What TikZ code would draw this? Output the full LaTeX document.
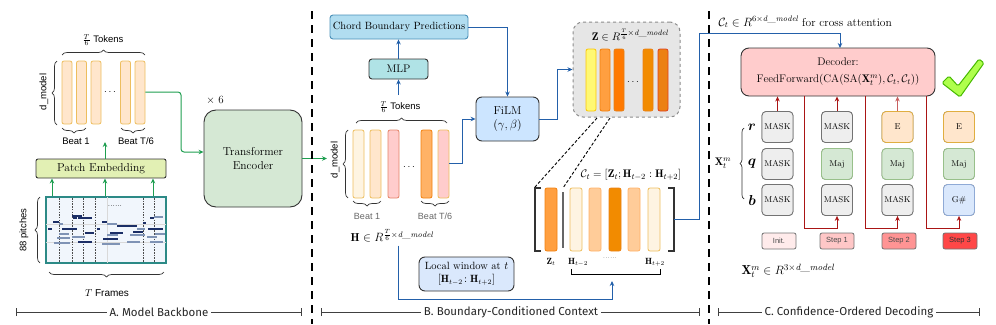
\documentclass[tikz,border=0pt]{standalone}
\usepackage{fontspec}
\usepackage{bm}
\newfontfamily\arialf{Liberation Sans}
\newfontfamily\handf{Fira Sans}
\usetikzlibrary{arrows.meta,decorations.pathreplacing,calc}
\definecolor{arrgreen}{HTML}{1E9E50}
\definecolor{arrblue}{HTML}{2360AA}
\definecolor{arrred}{HTML}{AA1515}
\definecolor{arrred2}{HTML}{C86060}
\definecolor{boxdark}{HTML}{333333}
\definecolor{tokfill}{HTML}{FFE6CC}
\definecolor{tokdraw}{HTML}{EDBE5E}
\definecolor{pefill}{HTML}{E2F0B4}
\definecolor{encfill}{HTML}{D5E8D4}
\definecolor{rollfill}{HTML}{F1F6FC}
\definecolor{rolldraw}{HTML}{2C8A86}
\definecolor{notedark}{HTML}{1B2E66}
\definecolor{notelight}{HTML}{7F93B5}
\definecolor{cbpfill}{HTML}{B1DDF0}
\definecolor{cbpdraw}{HTML}{4A90B8}
\definecolor{mlpfill}{HTML}{B0E3E6}
\definecolor{filmfill}{HTML}{CCE5FF}
\definecolor{lwfill}{HTML}{DAE8FC}
\definecolor{zfill}{HTML}{E6E6E6}
\definecolor{decfill}{HTML}{FFCCCC}
\definecolor{maskfill}{HTML}{EEEEEE}
\definecolor{majfill}{HTML}{D5E8D4}
\definecolor{majdraw}{HTML}{98C08A}
\definecolor{efill}{HTML}{FFE6CC}
\definecolor{edraw}{HTML}{E0AE40}
\definecolor{gfill}{HTML}{DAE8FC}
\definecolor{gdraw}{HTML}{8FAAD6}
\begin{document}
\begin{tikzpicture}[x=1pt,y=-1pt,
  box/.style={draw=boxdark, line width=0.9pt, rounded corners=3pt, inner sep=0pt, align=center},
  bar/.style={draw, line width=0.8pt, rounded corners=2pt, inner sep=0pt, minimum width=10pt},
  garrow/.style={draw=arrgreen, line width=1pt, rounded corners=3pt, -{Stealth[length=5pt,width=4.5pt]}},
  barrow/.style={draw=arrblue, line width=1pt, -{Stealth[length=5pt,width=4.5pt]}},
  rarrow/.style={draw=arrred, line width=1pt, -{Stealth[length=5pt,width=4.5pt]}},
  mybrace/.style={decorate, decoration={brace, amplitude=5pt}, draw=black!80, line width=0.7pt},
  tok/.style={draw, line width=0.8pt, rounded corners=4pt, minimum width=31pt, minimum height=31pt, inner sep=0pt, font=\fontsize{8.5}{9}\selectfont},
  stepbox/.style={draw=black!55, line width=0.8pt, rounded corners=2pt, minimum width=34pt, minimum height=16pt, inner sep=0pt, font=\arialf\fontsize{7.5}{8}\selectfont, text=black!70},
  sflabel/.style={font=\arialf\fontsize{9.5}{11}\selectfont},
  divider/.style={draw=black, line width=1.2pt, dash pattern=on 8pt off 6pt},
  secline/.style={draw=black!75, line width=1pt, {Bar[width=8pt]}-{Bar[width=8pt]}},
  seclabel/.style={fill=white, inner sep=3pt, font=\handf\fontsize{11.5}{13}\selectfont, text=black!85},
  dk/.style={draw=notedark, line width=1.4pt},
  lt/.style={draw=notelight, line width=2.4pt}
]
\useasboundingbox (0,0) rectangle (996,324);

% ===================== A. Model Backbone =====================
\foreach \x/\n in {67/a1,81.5/a2,96/a3,125.5/a4,140/a5}
  \node[bar, fill=tokfill, draw=tokdraw, minimum height=63pt] (\n) at (\x,92.5) {};
\node (adots) at (110,92) {$\cdots$};
\draw[mybrace] (62,55) -- (145,55);
\node[sflabel] (atok) at (103,40) {$\frac{T}{6}$ Tokens};
\draw[mybrace] (57,125) -- (57,61);
\node[sflabel, rotate=90] (adm) at (44,92) {d\_model};
\draw[mybrace] (86,128) -- (62,128);
\draw[mybrace] (145,128) -- (121,128);
\node[sflabel] (ab1) at (76,141) {Beat 1};
\node[sflabel] (ab2) at (136,141) {Beat T/6};

\node[box, fill=pefill, rounded corners=2pt, minimum width=130pt, minimum height=19pt, font=\fontsize{11.5}{13}\selectfont] (pe) at (101,168.5) {Patch Embedding};
\coordinate (tokbot) at (105,142);
\draw[garrow] (pe.north -| tokbot) -- (tokbot);

\node[draw=rolldraw, line width=1.6pt, fill=rollfill, minimum width=120pt, minimum height=66pt, inner sep=0pt] (roll) at (106,230) {};
\draw[black!15, line width=0.5pt] (46,224) -- (166,224) (46,242) -- (166,242) (107,197) -- (107,263);
\foreach \x in {59,72,83,95,143,154}
  \draw[black!70, line width=0.6pt, dash pattern=on 1.5pt off 1.2pt] (\x,198) -- (\x,262);
\node[font=\fontsize{8}{9}\selectfont] (rdots) at (115,206) {......};
\foreach \y/\a/\b in {222/53/59, 218/73/77, 218/78/92, 229/48/52, 229/62/77, 233/85/94, 242/78/92, 222/102/107, 226/117/137, 229/97/100, 233/110/123, 239/103/118, 232/133/143, 218/150/154, 223/143/146, 229/148/163, 216/72/82}
  \draw[dk] (\a,\y) -- (\b,\y);
\foreach \y/\a/\b in {224/59/63, 234/59/69, 238/57/70, 243/54/70, 237/72/85, 224/107/117, 229/137/145, 235/107/118, 235/130/145, 242/127/140, 244/102/120, 217/154/163, 234/155/165, 237/147/157, 242/150/163}
  \draw[lt] (\a,\y) -- (\b,\y);
\foreach \x in {52,105,153}
  \draw[garrow] (\x,196) -- (pe.south -| \x,0);
\draw[mybrace] (40,263) -- (40,197);
\node[sflabel, rotate=90] (apit) at (24,230) {88 pitches};
\draw[mybrace] (164,272) -- (49,272);
\node[sflabel, font=\arialf\fontsize{10}{11}\selectfont] (afr) at (107,293) {$T$ Frames};

\node[box, fill=encfill, rounded corners=12pt, minimum width=98pt, minimum height=97pt, font=\fontsize{11.5}{14}\selectfont] (enc) at (253,158.5) {Transformer\\Encoder};
\node[font=\fontsize{11}{12}\selectfont] (x6) at (215,100) {$\times$ 6};
\draw[garrow] (a5.east |- 0,92) -- (181,92) -- (181,152) -- (enc.west |- 0,152);
\coordinate (encout) at (327,158.5);
\draw[garrow] (enc.east) -- (encout);

\draw[divider] (312,11) -- (312,324);
\draw[secline] (16,312) -- (302,312);
\node[seclabel] (secA) at (159,312) {A. Model Backbone};

% ===================== B. Boundary-Conditioned Context =====================
\node[box, draw=cbpdraw, fill=cbpfill, minimum width=138pt, minimum height=24pt, font=\fontsize{10.5}{12}\selectfont] (cbp) at (399,27) {Chord Boundary Predictions};
\node[box, fill=mlpfill, minimum width=59pt, minimum height=20pt, font=\fontsize{11}{12}\selectfont] (mlp) at (398.5,69) {MLP};
\draw[barrow] (mlp.north) -- (cbp.south -| mlp.north);
\coordinate (btoktop) at (398.5,95);
\draw[barrow] (btoktop) -- (mlp.south);
\node[sflabel] (btok) at (400,107) {$\frac{T}{6}$ Tokens};
\draw[mybrace] (356,123) -- (447,123);

\node[bar, minimum width=11pt, minimum height=68pt, fill=yellow!20!orange!10, draw=tokdraw] (h1) at (358.5,164) {};
\node[bar, minimum width=11pt, minimum height=68pt, fill=tokfill, draw=tokdraw] (h2) at (375.5,164) {};
\node[bar, minimum width=11pt, minimum height=68pt, fill=red!20, draw=red!40!brown!70] (h3) at (393.5,164) {};
\node[bar, minimum width=11pt, minimum height=68pt, fill=orange!60, draw=orange!80!brown] (h4) at (426.5,164) {};
\node[bar, minimum width=11pt, minimum height=68pt, fill=red!20, draw=tokdraw] (h5) at (443.5,164) {};
\node (bdots) at (409,167) {$\cdots$};
\draw[mybrace] (348,198) -- (348,130);
\node[sflabel, rotate=90] (bdm) at (335,160) {d\_model};
\draw[mybrace] (381,201) -- (353,201);
\draw[mybrace] (449,201) -- (421,201);
\node[sflabel, text=black!60, font=\arialf\fontsize{9}{10}\selectfont] (bb1) at (367,216) {Beat 1};
\node[sflabel, text=black!60, font=\arialf\fontsize{9}{10}\selectfont] (bb2) at (435,216) {Beat T/6};
\node[font=\fontsize{11.5}{13}\selectfont] (hform) at (392,236) {$\mathbf{H}\in R^{\frac{T}{6}\times \mathit{d\_model}}$};

\node[box, fill=filmfill, rounded corners=6pt, minimum width=63pt, minimum height=44pt, font=\fontsize{11.5}{14}\selectfont] (film) at (507.5,119) {FiLM\\$(\gamma,\beta)$};
\draw[barrow] (h5.east |- 0,163) -- (462,163) -- (462,119) -- (film.west);
\draw[barrow] (cbp.east) -| (film.north);

\node[draw=black!45, dashed, line width=1pt, fill=zfill, rounded corners=10pt, minimum width=107pt, minimum height=95pt, inner sep=0pt] (zb) at (626.5,69.5) {};
\draw[barrow] (film.east) -- (557,119) -- (557,69.5) -- (zb.west);
\node[font=\fontsize{11}{12}\selectfont] (ztitle) at (630,35) {$\mathbf{Z}\in R^{\frac{T}{6}\times \mathit{d\_model}}$};
\node[bar, fill=yellow!55, draw=yellow!60!orange] (z1) at (591,80) [minimum height=62pt] {};
\node[bar, fill=orange!75, draw=orange!80!brown] (z2) at (605,80) [minimum height=62pt] {};
\node[bar, fill=orange!95!red, draw=orange!60!brown] (z3) at (619,80) [minimum height=62pt] {};
\node[bar, fill=orange!85!yellow!95!black, draw=orange!70!brown] (z4) at (648,80) [minimum height=62pt] {};
\node[bar, fill=orange!70!brown, draw=red!50!brown] (z5) at (663,80) [minimum height=62pt] {};
\node (zdots) at (633,82) {$\cdots$};

\coordinate (lbr) at (535,187);
\coordinate (sepT) at (563,188);
\draw[black, line width=0.9pt, dash pattern=on 3pt off 2pt] (597,118) -- (lbr);
\draw[black, line width=0.9pt, dash pattern=on 3pt off 2pt] (610,118) -- (sepT);
\draw[black!80, line width=1.3pt] (541,188) -- (535,188) -- (535,251) -- (541,251);
\draw[black!80, line width=1.3pt] (668,188) -- (674,188) -- (674,251) -- (668,251);
\node[bar, minimum width=12pt, minimum height=63pt, fill=orange!75, draw=orange!80!brown] (zt) at (551,219.5) {};
\draw[black!60, line width=1.6pt] (563,192) -- (563,248);
\node[bar, minimum width=12pt, minimum height=63pt, fill=yellow!20!orange!10, draw=tokdraw] (c1) at (576,219.5) {};
\node[bar, minimum width=12pt, minimum height=63pt, fill=orange!40, draw=orange!60] (c2) at (595,219.5) {};
\node[bar, minimum width=12pt, minimum height=63pt, fill=orange!85!yellow!95!black, draw=orange!70!brown] (c3) at (615,219.5) {};
\node[bar, minimum width=12pt, minimum height=63pt, fill=orange!40, draw=orange!60] (c4) at (634,219.5) {};
\node[bar, minimum width=12pt, minimum height=63pt, fill=yellow!20!orange!10, draw=tokdraw] (c5) at (654,219.5) {};
\node[font=\fontsize{9}{10}\selectfont] (lzt) at (551,262) {$\mathbf{Z}_t$};
\node[font=\fontsize{9}{10}\selectfont] (lh1) at (578,262) {$\mathbf{H}_{t-2}$};
\node[font=\fontsize{8}{9}\selectfont, text=black!50] (lhd) at (610,258) {......};
\node[font=\fontsize{9}{10}\selectfont] (lh2) at (655,262) {$\mathbf{H}_{t+2}$};
\draw[black, line width=1pt] (571,269) -- (571,274) -- (660,274) -- (660,269);
\coordinate (winin) at (612,275);
\node[font=\fontsize{11}{12}\selectfont] (ctf) at (631,175) {$\mathcal{C}_t = [\mathbf{Z}_t;\mathbf{H}_{t-2}:\mathbf{H}_{t+2}]$};
\node[box, fill=lwfill, rounded corners=6pt, minimum width=95pt, minimum height=34pt, font=\fontsize{10.5}{13}\selectfont] (lw) at (466.5,274) {Local window at $t$\\$[\mathbf{H}_{t-2}\!:\mathbf{H}_{t+2}]$};
\draw[barrow] (hform.south -| 398,0) -- (398,299) -- (612,299) -- (612,281);

\draw[barrow] (674,219) -- (699,219) -- (699,33) -- (840,33) -- (840,48);

\draw[divider] (709,11) -- (709,324);
\draw[secline] (321,312) -- (700,312);
\node[seclabel] (secB) at (511,312) {B. Boundary-Conditioned Context};

% ===================== C. Confidence-Ordered Decoding =====================
\node[font=\fontsize{11.5}{13}\selectfont, anchor=west] (crossl) at (715,22) {$\mathcal{C}_t\in R^{6\times \mathit{d\_model}}$ for cross attention};
\node[box, fill=decfill, rounded corners=8pt, minimum width=194pt, minimum height=48pt, font=\fontsize{11}{17}\selectfont] (dec) at (838,72) {Decoder:\\$\mathrm{FeedForward}(\mathrm{CA}(\mathrm{SA}(\mathbf{X}_t^m),\mathcal{C}_t,\mathcal{C}_t))$};

\foreach \c/\x in {1/777.5,2/837,3/897.5,4/959}{
  \foreach \r/\y in {1/127,2/164,3/200}{
    \node[tok, fill=maskfill, draw=black!55] (t\c\r) at (\x,\y) {};
  }
}
\node[tok, fill=maskfill, draw=black!55] at (t11) {MASK};
\node[tok, fill=maskfill, draw=black!55] at (t12) {MASK};
\node[tok, fill=maskfill, draw=black!55] at (t13) {MASK};
\node[tok, fill=maskfill, draw=black!55] at (t21) {MASK};
\node[tok, fill=majfill, draw=majdraw] at (t22) {Maj};
\node[tok, fill=maskfill, draw=black!55] at (t23) {MASK};
\node[tok, fill=efill, draw=edraw] at (t31) {E};
\node[tok, fill=majfill, draw=majdraw] at (t32) {Maj};
\node[tok, fill=maskfill, draw=black!55] at (t33) {MASK};
\node[tok, fill=efill, draw=edraw] at (t41) {E};
\node[tok, fill=majfill, draw=majdraw] at (t42) {Maj};
\node[tok, fill=gfill, draw=gdraw] at (t43) {G\#};

\draw[rarrow] (t11.north) -- (t11.north |- dec.south);
\draw[rarrow] (t21.north) -- (t21.north |- dec.south);
\draw[rarrow, draw=arrred2] (t31.north) -- (t31.north |- dec.south);
\draw[rarrow] (dec.south -| 804,0) -- (804,228) -| (t23.south);
\draw[rarrow] (dec.south -| 865,0) -- (865,228) -| (t33.south);
\draw[rarrow] (dec.south -| 926,0) -- (926,228) -| (t43.south);

\node[stepbox, fill=red!8] (s0) at (779,241) {Init.};
\node[stepbox, fill=red!22] (s1) at (837,241) {Step 1};
\node[stepbox, fill=red!42] (s2) at (899,241) {Step 2};
\node[stepbox, fill=red!72, text=black!80] (s3) at (960,241) {Step 3};

\node[font=\fontsize{14}{15}\selectfont, inner sep=1pt] (lr) at (752,127) {$\bm{r}$};
\node[font=\fontsize{14}{15}\selectfont, inner sep=1pt] (lq) at (752,164) {$\bm{q}$};
\node[font=\fontsize{14}{15}\selectfont, inner sep=1pt] (lb) at (752,200) {$\bm{b}$};
\draw[mybrace, decoration={brace, amplitude=4pt}] (744,199) -- (744,128);
\node[font=\fontsize{11}{12}\selectfont, inner sep=1pt] (xtm) at (723,163) {$\mathbf{X}_t^m$};
\node[font=\fontsize{13}{14}\selectfont, inner sep=1pt] (xform) at (788,271) {$\mathbf{X}_t^m\in R^{3\times \mathit{d\_model}}$};

\draw[draw=green!45!olive, fill=green!45!yellow!70!white, line width=1pt, rounded corners=1.5pt]
  (942,83) -- (949,76) -- (958,86) -- (979,59) -- (984,63) -- (960,97) -- cycle;

\draw[secline] (718,312) -- (980,312);
\node[seclabel] (secC) at (849,312) {C. Confidence-Ordered Decoding};
\end{tikzpicture}
\end{document}
